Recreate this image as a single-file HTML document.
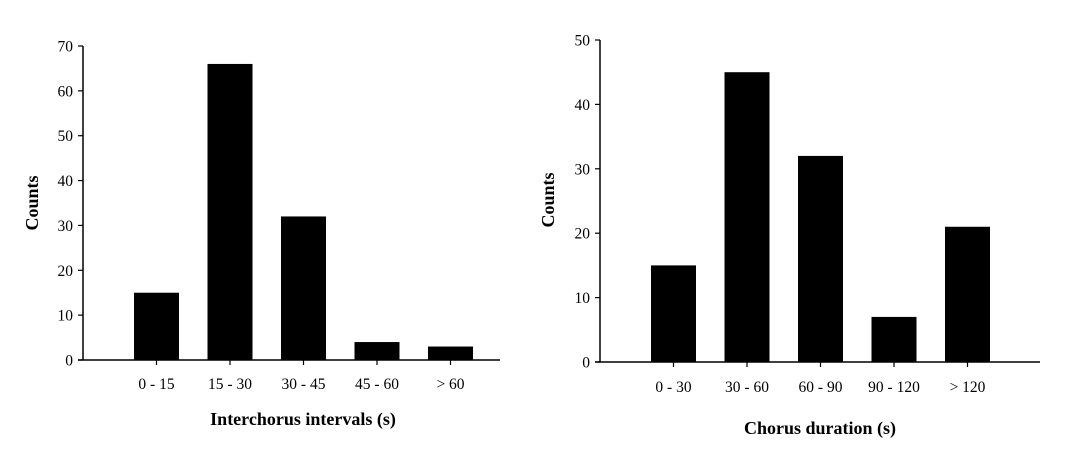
<!DOCTYPE html>
<html><head><meta charset="utf-8"><style>
body{margin:0;background:#fff;}
svg{display:block;font-family:"Liberation Serif",serif;}
</style></head><body>
<svg id="chart" width="1080" height="452"></svg>
<script>
const leftCats=["0 - 15","15 - 30","30 - 45","45 - 60","> 60"];
const leftVals=[15,66,32,4,3];
const leftTicks=[0,10,20,30,40,50,60,70];
const rightCats=["0 - 30","30 - 60","60 - 90","90 - 120","> 120"];
const rightVals=[15,45,32,7,21];
const rightTicks=[0,10,20,30,40,50];
const NS="http://www.w3.org/2000/svg";
const svg=document.getElementById('chart');
function mk(tag,attrs,parent){const e=document.createElementNS(NS,tag);for(const k in attrs)e.setAttribute(k,attrs[k]);(parent||svg).appendChild(e);return e;}
function panel(o){
  const g=mk('g',{});
  
  
  const max=o.ticks[o.ticks.length-1];
  const y=v=>o.y0-(v/max)*(o.y0-o.yTop);
  const x=i=>o.x0+(i+1)*o.step;
  const ya=mk('line',{x1:o.x0,y1:o.yTop,x2:o.x0,y2:o.y0,stroke:'#000','stroke-width':1.5},g);
  
  
  const xa=mk('line',{x1:o.x0-5,y1:o.y0,x2:o.xEnd,y2:o.y0,stroke:'#000','stroke-width':1.5},g);
  
  
  o.ticks.forEach(t=>{
    mk('line',{x1:o.x0-5,y1:y(t),x2:o.x0,y2:y(t),stroke:'#000','stroke-width':1.2},g);
    const tl=mk('text',{x:o.x0-10,y:y(t)+5.5,'text-anchor':'end','font-size':15.5},g);
    tl.textContent=t;
    
    
  });
  o.vals.forEach((v,i)=>{
    const r=mk('rect',{x:x(i)-22.5,y:y(v),width:45,height:o.y0-y(v),fill:'#000'},g);
    
    
    mk('line',{x1:x(i),y1:o.y0,x2:x(i),y2:o.y0+5,stroke:'#000','stroke-width':1.2},g);
    const cl=mk('text',{x:x(i),y:o.labY,'text-anchor':'middle','font-size':15.5},g);
    cl.textContent=o.cats[i];
    
    
  });
  const xt=mk('text',{x:o.titleX,y:o.titleY,'text-anchor':'middle','font-size':18,'font-weight':'bold'},g);
  xt.textContent=o.xTitle;
  
  
  const yt=mk('text',{x:0,y:0,'text-anchor':'middle','font-size':18,'font-weight':'bold',transform:`translate(${o.ylabX},${o.ylabY}) rotate(-90)`},g);
  yt.textContent='Counts';
  
  
}
panel({name:'interchorus-chart',cats:leftCats,vals:leftVals,ticks:leftTicks,x0:83,xEnd:500,yTop:46,y0:360,step:73.5,labY:389,xTitle:'Interchorus intervals (s)',titleX:303,titleY:425,ylabX:38,ylabY:203});
panel({name:'chorus-duration-chart',cats:rightCats,vals:rightVals,ticks:rightTicks,x0:600,xEnd:1040,yTop:40,y0:362,step:73.5,labY:392,xTitle:'Chorus duration (s)',titleX:820,titleY:434,ylabX:554,ylabY:200});
</script>
</body></html>
